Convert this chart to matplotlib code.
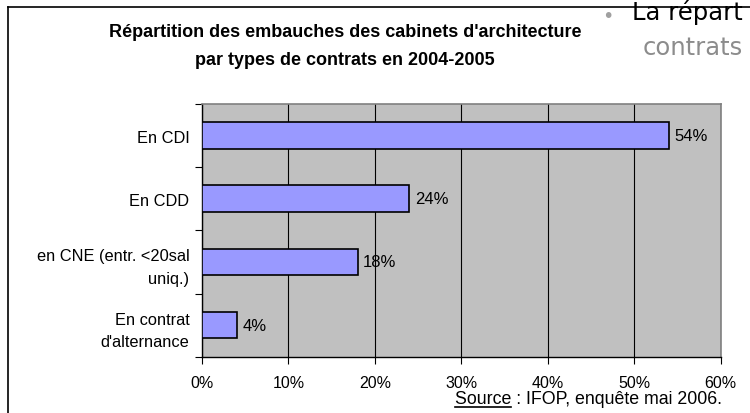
import matplotlib
matplotlib.use("Agg")
import matplotlib.pyplot as plt
from matplotlib.lines import Line2D
import numpy as np

categories = ["En CDI", "En CDD", "en CNE (entr. <20sal\nuniq.)", "En contrat\nd'alternance"]
values = [54, 24, 18, 4]
xticks = [0, 10, 20, 30, 40, 50, 60]
title = "Répartition des embauches des cabinets d'architecture\npar types de contrats en 2004-2005"
source_word = "Source"
source_rest = " : IFOP, enquête mai 2006."

W, H = 750, 414
fig = plt.figure(figsize=(7.5, 4.14), dpi=100)
fig.patch.set_facecolor("white")
font = "Liberation Sans"

def fx(px):
    return px / W

def fy(py):
    return 1 - py / H

ax = fig.add_axes([fx(202), fy(357.7), fx(720.7) - fx(202), fy(105) - fy(357.7)])
ax.set_facecolor("#C0C0C0")
ypos = np.arange(len(categories))
ax.barh(ypos, values, height=0.42, color="#9999FF", edgecolor="black", linewidth=1.2, zorder=3)
ax.set_xlim(0, 60)
ax.set_ylim(len(categories) - 0.5, -0.5)
ax.set_xticks(xticks)
ax.set_xticklabels([f"{t}%" for t in xticks], fontsize=11.5, family=font)
ax.set_yticks(ypos)
ax.set_yticklabels(categories, fontsize=11.8, family=font, linespacing=1.6)
ax.tick_params(axis="y", length=0, pad=9)
ax.set_yticks(np.arange(len(categories) + 1) - 0.5, minor=True)
ax.tick_params(axis="y", which="minor", length=5, direction="out", width=0.8)
ax.tick_params(axis="x", length=5, direction="out", width=0.8, pad=8)
ax.grid(axis="x", color="black", linewidth=0.8, zorder=1)
ax.set_axisbelow(True)
for s in ["left", "bottom"]:
    ax.spines[s].set_color("black")
    ax.spines[s].set_linewidth(1.0)
for s in ["top", "right"]:
    ax.spines[s].set_color("#808080")
    ax.spines[s].set_linewidth(1.2)

for y, v in zip(ypos, values):
    ax.text(v + 0.65, y, f"{v}%", va="center", ha="left", fontsize=12, family=font, zorder=4)

fig.text(fx(345), fy(46.5), title, ha="center", va="center", fontsize=13, fontweight="bold",
         family=font, linespacing=1.8)

# frame
fig.add_artist(Line2D([fx(8), fx(8)], [fy(8), 0], color="black", linewidth=1.2, transform=fig.transFigure))
fig.add_artist(Line2D([fx(8), 1], [fy(8), fy(8)], color="black", linewidth=1.2, transform=fig.transFigure))

# overlapping slide text
fig.text(fx(608), fy(17), "•", ha="center", va="center", fontsize=14, color="#A0A0A0", family="DejaVu Sans")
fig.text(fx(632), fy(20), "La répart", ha="left", va="baseline", fontsize=17.5, color="black", family="DejaVu Sans")
fig.text(fx(643), fy(55), "contrats", ha="left", va="baseline", fontsize=17.5, color="#8C8C8C", family="DejaVu Sans")

# source with underline
src_fs = 12.8
src = fig.text(fx(722), fy(400), source_word + source_rest, ha="right", va="center", fontsize=src_fs, family=font)
fig.canvas.draw()
r = fig.canvas.get_renderer()
bb = src.get_window_extent(renderer=r)
tmp = fig.text(0, 0, source_word, fontsize=src_fs, family=font)
wb = tmp.get_window_extent(renderer=r)
tmp.remove()
x0 = bb.x0 / W
x1 = (bb.x0 + wb.width) / W
yl = (bb.y0 + 1.0) / H
fig.add_artist(Line2D([x0, x1], [yl, yl], color="black", linewidth=1.2, transform=fig.transFigure))

fig.savefig("out.png", dpi=100, facecolor="white")
